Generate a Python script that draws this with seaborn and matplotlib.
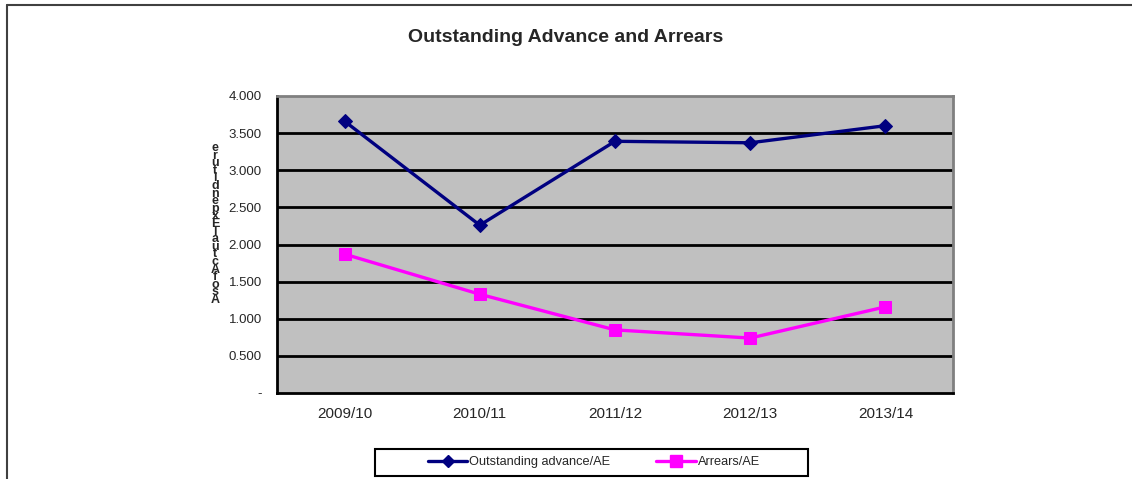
import matplotlib
matplotlib.use("Agg")
import matplotlib.pyplot as plt
from matplotlib.lines import Line2D
from matplotlib.patches import Rectangle
import seaborn as sns
import pandas as pd
import numpy as np

years = ["2009/10", "2010/11", "2011/12", "2012/13", "2013/14"]
outstanding_advance = [3.66, 2.26, 3.39, 3.37, 3.60]
arrears = [1.87, 1.33, 0.85, 0.74, 1.16]
series_names = ["Outstanding advance/AE", "Arrears/AE"]
y_ticks = [0, 0.5, 1.0, 1.5, 2.0, 2.5, 3.0, 3.5, 4.0]
y_tick_labels = ["-", "0.500", "1.000", "1.500", "2.000", "2.500", "3.000", "3.500", "4.000"]
title = "Outstanding Advance and Arrears"
y_label = "As of Actual Expenditure"

sns.set_style("white")
plt.rcParams["font.family"] = ["Liberation Sans", "DejaVu Sans"]

W, H = 1132, 479
fig = plt.figure(figsize=(W / 100, H / 100), dpi=100)
fig.patch.set_facecolor("white")
ax = fig.add_axes([277 / W, 1 - 393 / H, (953 - 277) / W, (393 - 96) / H])
ax.set_facecolor("#C0C0C0")

df = pd.DataFrame({
    "year": years * 2,
    "value": outstanding_advance + arrears,
    "series": [series_names[0]] * len(years) + [series_names[1]] * len(years),
})

colors = {series_names[0]: "#000080", series_names[1]: "#FF00FF"}
markers = {series_names[0]: "D", series_names[1]: "s"}
sizes = {series_names[0]: 7.5, series_names[1]: 9}

for name in series_names:
    sub = df[df["series"] == name]
    sns.lineplot(data=sub, x="year", y="value", ax=ax, color=colors[name],
                 marker=markers[name], markersize=sizes[name], linewidth=2.4,
                 markeredgecolor=colors[name], legend=False, sort=False)

ax.set_xlim(-0.5, len(years) - 0.5)
ax.set_ylim(0, 4.0)
ax.set_yticks(y_ticks)
ax.set_yticklabels(y_tick_labels, fontsize=9.5)
ax.set_xticks(range(len(years)))
ax.set_xticklabels(years, fontsize=11)
ax.set_xticks(np.arange(-0.5, len(years), 1.0), minor=True)
ax.tick_params(axis="x", which="major", length=0, pad=10)
ax.tick_params(axis="x", which="minor", length=5, width=2, color="black", direction="out")
ax.tick_params(axis="y", which="major", length=5, width=2, color="black", direction="out", pad=6)
ax.set_xlabel("")
ax.set_ylabel("")

ax.grid(False)
for yv in y_ticks[1:-1]:
    ax.axhline(yv, color="black", linewidth=2, zorder=1)

for s in ["left", "bottom"]:
    ax.spines[s].set_color("black")
    ax.spines[s].set_linewidth(2)
for s in ["top", "right"]:
    ax.spines[s].set_color("#808080")
    ax.spines[s].set_linewidth(2)

fig.text(566 / W, 1 - 38 / H, title, ha="center", va="center",
         fontsize=14, fontweight="bold")

stacked = "\n".join(reversed([c for c in y_label if c != " "]))
fig.text(215 / W, 1 - 224 / H, stacked, ha="center", va="center",
         fontsize=9, fontweight="bold", linespacing=0.51)

# legend
handles = [Line2D([0], [0], color=colors[n], marker=markers[n], markersize=sizes[n] - 1,
                  linewidth=2.4, markeredgecolor=colors[n]) for n in series_names]
fig.legend(handles, series_names, loc="center", bbox_to_anchor=(594 / W, 1 - 462 / H),
           ncol=2, frameon=False, fontsize=9.2, handlelength=3.1, handletextpad=0.15,
           columnspacing=3.6)
fig.add_artist(Rectangle((375 / W, 1 - 476 / H), (808 - 375) / W, (476 - 449) / H,
                         transform=fig.transFigure, fill=False, edgecolor="black",
                         linewidth=1.5))

# outer border (top and left)
fig.add_artist(Line2D([7 / W, 1], [1 - 5 / H, 1 - 5 / H], transform=fig.transFigure,
                      color="#404040", linewidth=1.5))
fig.add_artist(Line2D([7 / W, 7 / W], [1 - 5 / H, 0], transform=fig.transFigure,
                      color="#404040", linewidth=1.5))

fig.savefig("out.png", dpi=100)
